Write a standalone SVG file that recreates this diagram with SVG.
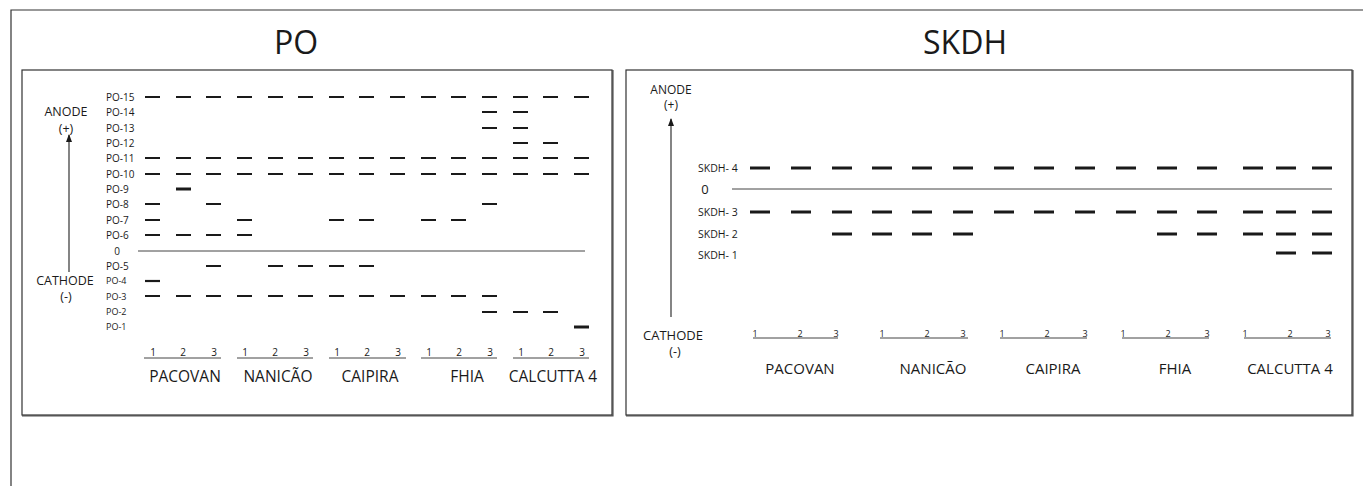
<svg xmlns="http://www.w3.org/2000/svg" width="1363" height="486" viewBox="0 0 1363 486">
  <style>
    text { font-family: "Open Sans", "Liberation Sans", sans-serif; fill: #1a1a1a; }
    .title { font-size: 32px; text-anchor: middle; }
    .pole { font-size: 12.5px; text-anchor: middle; }
    .lab { font-size: 10px; }
    .labs { font-size: 9px; }
    .num { font-size: 10px; text-anchor: middle; }
    .nums { font-size: 9px; text-anchor: middle; }
    .name { font-size: 15.5px; text-anchor: middle; }
    .frame { fill: none; stroke: #333; stroke-width: 1.2; }
    .panel { fill: #fff; stroke: #333; stroke-width: 1.2; }
    .shadow { fill: none; stroke: #555; stroke-width: 1.6; }
    .band { stroke: #1a1a1a; stroke-width: 2.2; fill: none; }
    .bandR { stroke: #1a1a1a; stroke-width: 2.8; fill: none; }
    .thick { stroke: #1a1a1a; stroke-width: 3; fill: none; }
    .axis { stroke: #444; stroke-width: 1; fill: none; }
    .arrow { stroke: #333; stroke-width: 1.2; fill: none; }
  </style>
  <defs>
    <marker id="tip" markerWidth="8" markerHeight="6" refX="7" refY="3" orient="auto" markerUnits="userSpaceOnUse">
      <path d="M0 0 L8 3 L0 6 Z" fill="#1a1a1a"/>
    </marker>
  </defs>

  <rect width="1363" height="486" fill="#fff"/>
  <!-- outer frame: top and left edges -->
  <path class="frame" d="M11 486 V10 H1363"/>

  <text class="title" x="296" y="54">PO</text>
  <text class="title" x="965" y="54">SKDH</text>

  <!-- PO zymogram -->
  <g id="panel-po">
    <rect class="panel" x="22" y="70" width="590" height="345"/>
    <path class="shadow" d="M22 415.8 H612.8 V70"/>

    <text class="pole" x="66" y="116">ANODE</text>
    <text class="pole" x="66" y="133">(+)</text>
    <text class="pole" x="65" y="285">CATHODE</text>
    <text class="pole" x="66" y="301">(-)</text>

    <g id="po-labels">
      <text class="lab" x="106" y="101">PO-15</text>
      <text class="lab" x="106" y="116">PO-14</text>
      <text class="lab" x="106" y="132">PO-13</text>
      <text class="lab" x="106" y="147">PO-12</text>
      <text class="lab" x="106" y="162">PO-11</text>
      <text class="lab" x="106" y="178">PO-10</text>
      <text class="lab" x="106" y="193">PO-9</text>
      <text class="lab" x="106" y="208">PO-8</text>
      <text class="lab" x="106" y="224">PO-7</text>
      <text class="lab" x="106" y="239">PO-6</text>
      <text class="lab" x="117" y="255" text-anchor="middle">0</text>
      <text class="lab" x="106" y="270">PO-5</text>
      <text class="labs" x="106" y="284">PO-4</text>
      <text class="labs" x="106" y="300">PO-3</text>
      <text class="labs" x="106" y="315">PO-2</text>
      <text class="labs" x="106" y="330">PO-1</text>
    </g>

    <line class="axis" x1="138" y1="251" x2="585" y2="251"/>

    <g id="po-bands">
      <path class="band" d="M145 97h15M176 97h15M206 97h15M237 97h15M268 97h15M298 97h15M329 97h15M359 97h15M390 97h15M421 97h15M451 97h15M482 97h15M513 97h15M543 97h15M574 97h15"/>
      <path class="band" d="M482 112h15M513 112h15"/>
      <path class="band" d="M482 128h15M513 128h15"/>
      <path class="band" d="M513 143h15M543 143h15"/>
      <path class="band" d="M145 158h15M176 158h15M206 158h15M237 158h15M268 158h15M298 158h15M329 158h15M359 158h15M390 158h15M421 158h15M451 158h15M482 158h15M513 158h15M543 158h15M574 158h15"/>
      <path class="band" d="M145 174h15M176 174h15M206 174h15M237 174h15M268 174h15M298 174h15M329 174h15M359 174h15M390 174h15M421 174h15M451 174h15M482 174h15M513 174h15M543 174h15M574 174h15"/>
      <path class="thick" d="M176 189h15"/>
      <path class="band" d="M145 204h15M206 204h15M482 204h15"/>
      <path class="band" d="M145 220h15M237 220h15M329 220h15M359 220h15M421 220h15M451 220h15"/>
      <path class="band" d="M145 235h15M176 235h15M206 235h15M237 235h15"/>
      <path class="band" d="M206 266h15M268 266h15M298 266h15M329 266h15M359 266h15"/>
      <path class="band" d="M145 281h15"/>
      <path class="band" d="M145 296h15M176 296h15M206 296h15M237 296h15M268 296h15M298 296h15M329 296h15M359 296h15M390 296h15M421 296h15M451 296h15M482 296h15"/>
      <path class="band" d="M482 312h15M513 312h15M543 312h15"/>
      <path class="thick" d="M574 327h15"/>
    </g>

    <g id="po-lanes">
      <path class="axis" d="M144 358H221M237 358H313M329 358H406M421 358H497M513 358H589"/>
      <text class="num" x="153" y="356">1</text><text class="num" x="183" y="356">2</text><text class="num" x="214" y="356">3</text>
      <text class="num" x="245" y="356">1</text><text class="num" x="275" y="356">2</text><text class="num" x="306" y="356">3</text>
      <text class="num" x="337" y="356">1</text><text class="num" x="367" y="356">2</text><text class="num" x="398" y="356">3</text>
      <text class="num" x="429" y="356">1</text><text class="num" x="459" y="356">2</text><text class="num" x="490" y="356">3</text>
      <text class="num" x="521" y="356">1</text><text class="num" x="551" y="356">2</text><text class="num" x="582" y="356">3</text>
      <text class="name" x="185" y="382">PACOVAN</text>
      <text class="name" x="278" y="382">NANICÃO</text>
      <text class="name" x="370" y="382">CAIPIRA</text>
      <text class="name" x="467" y="382">FHIA</text>
      <text class="name" x="553" y="382">CALCUTTA 4</text>
    </g>
  </g>

  <!-- SKDH zymogram -->
  <g id="panel-skdh">
    <rect class="panel" x="626" y="70" width="726" height="345"/>
    <path class="shadow" d="M626 415.8 H1352.8 V70"/>

    <text class="pole" x="671" y="94" style="font-size:12px">ANODE</text>
    <text class="pole" x="671" y="109" style="font-size:12px">(+)</text>
    <text class="pole" x="673" y="340" style="font-size:13px">CATHODE</text>
    <text class="pole" x="675" y="356">(-)</text>

    <g id="skdh-labels">
      <text class="lab" x="698" y="172" style="font-size:10.5px">SKDH- 4</text>
      <text x="705" y="194" text-anchor="middle" style="font-size:13px">0</text>
      <text class="lab" x="698" y="216" style="font-size:10.5px">SKDH- 3</text>
      <text class="lab" x="698" y="238" style="font-size:10.5px">SKDH- 2</text>
      <text class="lab" x="698" y="259" style="font-size:10.5px">SKDH- 1</text>
    </g>

    <line class="axis" x1="732" y1="189" x2="1332" y2="189"/>

    <g id="skdh-bands">
      <path class="bandR" d="M750 168h20M791 168h20M832 168h20M872 168h20M912 168h20M953 168h20M994 168h20M1034 168h20M1075 168h20M1116 168h20M1157 168h20M1197 168h20M1243 168h20M1276 168h20M1312 168h20"/>
      <path class="bandR" d="M750 212h20M791 212h20M832 212h20M872 212h20M912 212h20M953 212h20M994 212h20M1034 212h20M1075 212h20M1116 212h20M1157 212h20M1197 212h20M1243 212h20M1276 212h20M1312 212h20"/>
      <path class="bandR" d="M832 234h20M872 234h20M912 234h20M953 234h20M1157 234h20M1197 234h20M1243 234h20M1276 234h20M1312 234h20"/>
      <path class="bandR" d="M1276 253h20M1312 253h20"/>
    </g>

    <g id="skdh-lanes">
      <path class="axis" d="M753 338H838M880 338H968M1000 338H1087M1122 338H1209M1244 338H1331"/>
      <text class="nums" x="755" y="337">1</text><text class="nums" x="800" y="337">2</text><text class="nums" x="836" y="337">3</text>
      <text class="nums" x="882" y="337">1</text><text class="nums" x="927" y="337">2</text><text class="nums" x="963" y="337">3</text>
      <text class="nums" x="1002" y="337">1</text><text class="nums" x="1047" y="337">2</text><text class="nums" x="1085" y="337">3</text>
      <text class="nums" x="1123" y="337">1</text><text class="nums" x="1168" y="337">2</text><text class="nums" x="1207" y="337">3</text>
      <text class="nums" x="1245" y="337">1</text><text class="nums" x="1290" y="337">2</text><text class="nums" x="1328" y="337">3</text>
      <text class="name" x="800" y="374" style="font-size:15px">PACOVAN</text>
      <text class="name" x="933" y="374" style="font-size:15px">NANICÃO</text>
      <text class="name" x="1053" y="374" style="font-size:15px">CAIPIRA</text>
      <text class="name" x="1175" y="374" style="font-size:15px">FHIA</text>
      <text class="name" x="1290" y="374" style="font-size:15px">CALCUTTA 4</text>
    </g>
  </g>

  <!-- migration-direction arrows -->
  <g id="connectors">
    <line class="arrow" x1="69" y1="272" x2="69" y2="135" marker-end="url(#tip)"/>
    <line class="arrow" x1="671" y1="317" x2="671" y2="119" marker-end="url(#tip)"/>
  </g>
</svg>
